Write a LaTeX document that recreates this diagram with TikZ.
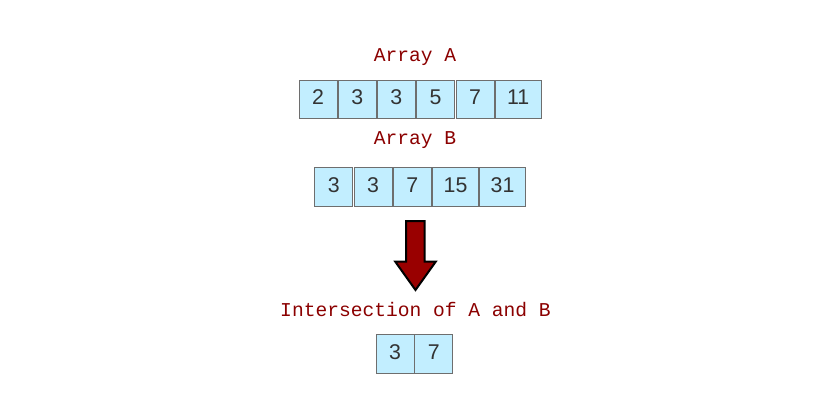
\documentclass[tikz,border=0pt]{standalone}
\usepackage{fontspec}
\setmainfont{Liberation Sans}
\newfontfamily\labelfont{Liberation Mono}
\definecolor{cellfill}{HTML}{C2EEFF}
\definecolor{cellline}{HTML}{6E6E6E}
\definecolor{celltext}{HTML}{333333}
\definecolor{titlered}{HTML}{8B0000}
\definecolor{arrowred}{HTML}{990000}
\begin{document}
\begin{tikzpicture}[x=0.75pt,y=-0.75pt,
  cell/.style={draw=cellline, line width=0.75pt, fill=cellfill, text=celltext,
    inner sep=0pt, minimum height=29pt, minimum width=28.5pt,
    text height=7.5pt, text depth=0pt, font=\fontsize{16}{18}\selectfont},
  wide/.style={minimum width=34.5pt},
  title/.style={text=titlered, inner sep=0pt, anchor=base,
    font=\labelfont\fontsize{14.7}{16}\selectfont},
  bigarrow/.style={fill=arrowred, draw=black, line width=1.5pt, line join=miter}]
\useasboundingbox (0,0) rectangle (825,412);

% Array A
\node[title] (tA) at (415,61) {Array A};
\node[cell] (a1) at (318.1,99.5) {2};
\node[cell] (a2) at (357.2,99.5) {3};
\node[cell] (a3) at (396.3,99.5) {3};
\node[cell] (a4) at (435.6,99.5) {5};
\node[cell] (a5) at (475.0,99.5) {7};
\node[cell,wide] (a6) at (518.2,99.5) {11};

% Array B
\node[title] (tB) at (415,144) {Array B};
\node[cell] (b1) at (333.8,187) {3};
\node[cell] (b2) at (373.0,187) {3};
\node[cell] (b3) at (412.3,187) {7};
\node[cell,wide] (b4) at (455.6,187) {15};
\node[cell,wide] (b5) at (502.6,187) {31};

% Result arrow
\coordinate (s1) at (406,221);
\coordinate (s2) at (424.5,221);
\coordinate (s3) at (424.5,261.7);
\coordinate (h1) at (435.7,261.7);
\coordinate (tip) at (415.5,290);
\coordinate (h2) at (395.3,261.7);
\coordinate (s4) at (406,261.7);
\draw[bigarrow] (s1) -- (s2) -- (s3) -- (h1) -- (tip) -- (h2) -- (s4) -- cycle;

% Intersection
\node[title] (tC) at (415.5,316) {Intersection of A and B};
\node[cell] (c1) at (395.0,354.3) {3};
\node[cell] (c2) at (433.8,354.3) {7};
\end{tikzpicture}
\end{document}
